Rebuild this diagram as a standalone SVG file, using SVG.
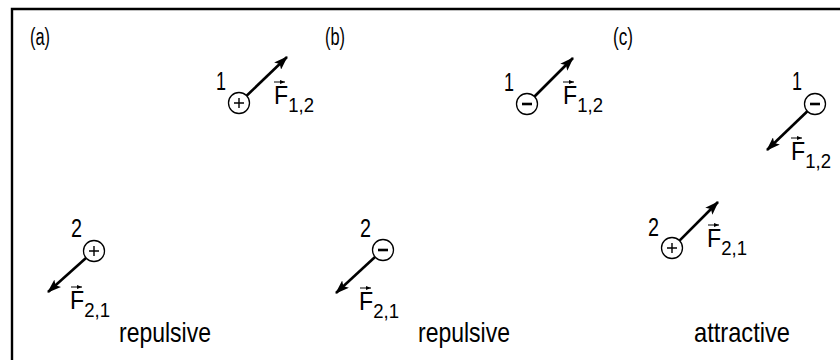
<svg xmlns="http://www.w3.org/2000/svg" width="840" height="360" viewBox="0 0 840 360">
<style>
text{font-family:"Liberation Sans",Arial,sans-serif;fill:#000}
.t{font-size:25px}
.s{font-size:20px}
.lab{font-size:23px}
.cap{font-size:28px}
.q{fill:#fff;stroke:#000;stroke-width:1.3}
.sg{stroke:#000;stroke-width:1.4;fill:none}
.mn{stroke:#000;stroke-width:2.6;fill:none}
.f{stroke:#000;stroke-width:2.6;fill:none;marker-end:url(#ah)}
.v{stroke:#000;stroke-width:1;fill:none;marker-end:url(#vh)}
</style>
<defs>
<marker id="ah" markerUnits="userSpaceOnUse" markerWidth="14" markerHeight="10" refX="13" refY="5" orient="auto">
<path d="M0,0 L14,5 L0,10 L3,5 Z" fill="#000"/>
</marker>
<marker id="vh" markerUnits="userSpaceOnUse" markerWidth="5" markerHeight="4" refX="5" refY="2" orient="auto">
<path d="M0,0 L5,2 L0,4 Z" fill="#000"/>
</marker>
</defs>
<rect width="840" height="360" fill="#fff"/>
<path d="M12,362 V9 H842" fill="none" stroke="#000" stroke-width="2.4"/>

<g id="panel-labels">
<text class="lab" x="30" y="45" textLength="20" lengthAdjust="spacingAndGlyphs">(a)</text>
<text class="lab" x="325" y="45" textLength="20" lengthAdjust="spacingAndGlyphs">(b)</text>
<text class="lab" x="613" y="45" textLength="20" lengthAdjust="spacingAndGlyphs">(c)</text>
</g>

<g id="connectors">
<line class="f" x1="246.6" y1="95.7" x2="287" y2="57"/>
<line class="f" x1="86" y1="258" x2="48" y2="292"/>
<line class="f" x1="534.5" y1="96.5" x2="573" y2="58"/>
<line class="f" x1="375" y1="257" x2="336" y2="293"/>
<line class="f" x1="807.4" y1="111.3" x2="767" y2="150"/>
<line class="f" x1="679.5" y1="240.6" x2="718" y2="202"/>
</g>

<g id="a-q1">
<circle class="q" cx="239" cy="103" r="10.5"/>
<path class="sg" d="M234,103 H244 M239,98 V108"/>
<text class="t" x="216" y="90" textLength="10" lengthAdjust="spacingAndGlyphs">1</text>
</g>
<g id="a-F12">
<line class="v" x1="274" y1="82" x2="285" y2="82"/>
<text class="t" x="274" y="104" textLength="40" lengthAdjust="spacingAndGlyphs">F<tspan class="s" dy="8">1,2</tspan></text>
</g>
<g id="a-q2">
<circle class="q" cx="94" cy="251" r="10.5"/>
<path class="sg" d="M89,251 H99 M94,246 V256"/>
<text class="t" x="71" y="237" textLength="11" lengthAdjust="spacingAndGlyphs">2</text>
</g>
<g id="a-F21">
<line class="v" x1="71" y1="287" x2="82" y2="287"/>
<text class="t" x="70" y="309" textLength="40" lengthAdjust="spacingAndGlyphs">F<tspan class="s" dy="8">2,1</tspan></text>
</g>
<text class="cap" x="119" y="342" textLength="92" lengthAdjust="spacingAndGlyphs">repulsive</text>

<g id="b-q1">
<circle class="q" cx="527" cy="104" r="10.5"/>
<path class="mn" d="M522,104 H532"/>
<text class="t" x="504" y="91" textLength="10" lengthAdjust="spacingAndGlyphs">1</text>
</g>
<g id="b-F12">
<line class="v" x1="563" y1="82" x2="574" y2="82"/>
<text class="t" x="563" y="104" textLength="40" lengthAdjust="spacingAndGlyphs">F<tspan class="s" dy="8">1,2</tspan></text>
</g>
<g id="b-q2">
<circle class="q" cx="383" cy="250" r="10.5"/>
<path class="mn" d="M378,250 H388"/>
<text class="t" x="360" y="237" textLength="11" lengthAdjust="spacingAndGlyphs">2</text>
</g>
<g id="b-F21">
<line class="v" x1="360" y1="288" x2="371" y2="288"/>
<text class="t" x="359" y="310" textLength="40" lengthAdjust="spacingAndGlyphs">F<tspan class="s" dy="8">2,1</tspan></text>
</g>
<text class="cap" x="418" y="342" textLength="92" lengthAdjust="spacingAndGlyphs">repulsive</text>

<g id="c-q1">
<circle class="q" cx="815" cy="104" r="10.5"/>
<path class="mn" d="M810,104 H820"/>
<text class="t" x="792" y="90" textLength="10" lengthAdjust="spacingAndGlyphs">1</text>
</g>
<g id="c-F12">
<line class="v" x1="791" y1="138" x2="802" y2="138"/>
<text class="t" x="791" y="160" textLength="40" lengthAdjust="spacingAndGlyphs">F<tspan class="s" dy="8">1,2</tspan></text>
</g>
<g id="c-q2">
<circle class="q" cx="672" cy="248" r="10.5"/>
<path class="sg" d="M667,248 H677 M672,243 V253"/>
<text class="t" x="648" y="236" textLength="11" lengthAdjust="spacingAndGlyphs">2</text>
</g>
<g id="c-F21">
<line class="v" x1="708" y1="225" x2="719" y2="225"/>
<text class="t" x="707" y="247" textLength="40" lengthAdjust="spacingAndGlyphs">F<tspan class="s" dy="8">2,1</tspan></text>
</g>
<text class="cap" x="694" y="342" textLength="96" lengthAdjust="spacingAndGlyphs">attractive</text>
</svg>
